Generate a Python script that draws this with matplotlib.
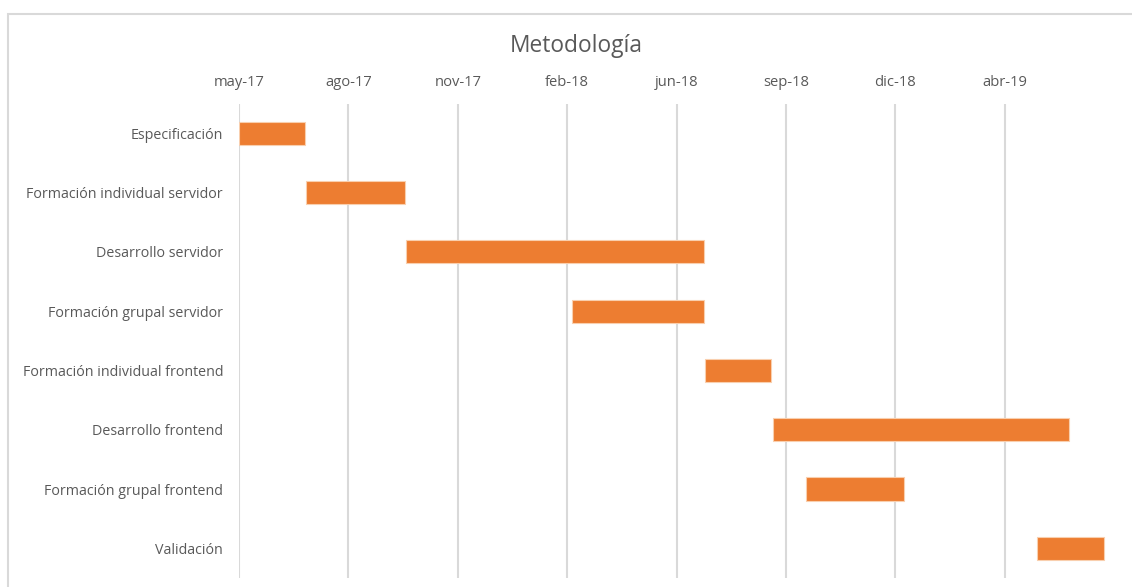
import pandas as pd
import matplotlib
matplotlib.use("Agg")
import matplotlib.pyplot as plt
import matplotlib.dates as mdates
from matplotlib.patches import Rectangle

# --- data ---
tasks = [
    "Especificación",
    "Formación individual servidor",
    "Desarrollo servidor",
    "Formación grupal servidor",
    "Formación individual frontend",
    "Desarrollo frontend",
    "Formación grupal frontend",
    "Validación",
]
starts = ["2017-05-01", "2017-07-01", "2017-10-01", "2018-03-01",
          "2018-07-01", "2018-09-01", "2018-10-01", "2019-05-01"]
ends = ["2017-06-29", "2017-09-29", "2018-06-29", "2018-06-29",
        "2018-08-29", "2019-05-29", "2018-12-29", "2019-06-30"]  # inclusive
tick_labels = ["may-17", "ago-17", "nov-17", "feb-18",
               "jun-18", "sep-18", "dic-18", "abr-19"]

ORANGE = "#ed7d31"
GREY_TXT = "#595959"
GRID = "#d9d9d9"

s = mdates.date2num(pd.to_datetime(starts))
e = mdates.date2num(pd.to_datetime(ends)) + 1
y = list(range(len(tasks)))

W, H = 1132, 587
fig = plt.figure(figsize=(W / 100, H / 100), dpi=100)
plt.rcParams["font.family"] = ["Open Sans", "DejaVu Sans"]

# chart border (cropped at right/bottom like the screenshot)
fig.patches.append(Rectangle((8 / W, -0.1), 1.2, 1 - 14 / H + 0.1,
                             transform=fig.transFigure, fill=False,
                             edgecolor=GRID, linewidth=1.5))

x0 = s[0]
ax = fig.add_axes([239 / W, 1 - 578 / H, (1114 - 239) / W, (578 - 103.6) / H])
ax.barh(y, e - s, left=s, height=0.39, color=ORANGE,
        edgecolor="#f9cfae", linewidth=0.8, zorder=3)

ax.set_xlim(x0, x0 + 800)
ax.set_ylim(len(tasks) - 0.5, -0.5)
ax.set_xticks([x0 + 100 * i for i in range(len(tick_labels))])
ax.set_xticklabels(tick_labels)
ax.set_yticks(y)
ax.set_yticklabels(tasks)
ax.xaxis.tick_top()
ax.tick_params(axis="x", length=0, pad=10, labelsize=10.6, labelcolor=GREY_TXT)
ax.tick_params(axis="y", length=0, pad=11.5, labelsize=10.3, labelcolor=GREY_TXT)
ax.grid(axis="x", color=GRID, linewidth=1.5, zorder=0)
for sp in ax.spines.values():
    sp.set_visible(False)

fig.text(576 / W, 1 - 46 / H, "Metodología", ha="center", va="center",
         fontsize=16.4, color=GREY_TXT)

fig.savefig("out.png", dpi=100)
